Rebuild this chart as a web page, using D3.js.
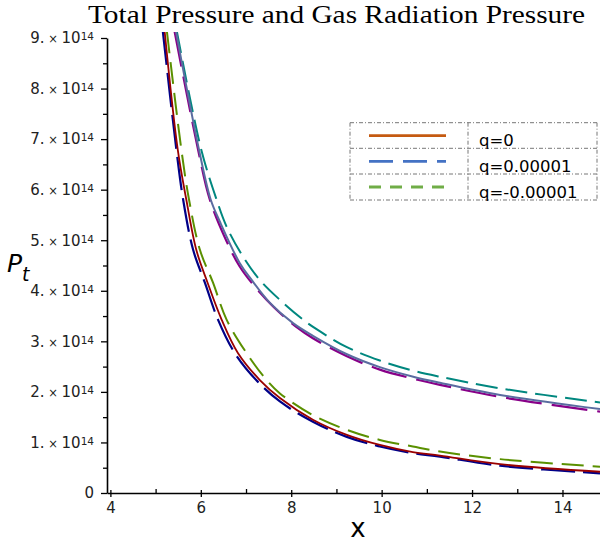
<!DOCTYPE html>
<meta charset="utf-8">
<style>
  body { margin: 0; background: #fff; }
</style>
<script src="https://d3js.org/d3.v7.min.js"></script>
<div id="chart"></div>
<script>

// axis ticks (P in units of 1e14)
var xMajor = [4, 6, 8, 10, 12, 14];
var xMinor = [5, 7, 9, 11, 13];
var yMajor = [0, 1, 2, 3, 4, 5, 6, 7, 8, 9];
var yMinor = [0.5, 1.5, 2.5, 3.5, 4.5, 5.5, 6.5, 7.5, 8.5];

// lower group of curves
var xRed   = [5.20, 5.49, 5.68, 5.90, 6.15, 6.46, 6.82, 7.30, 7.75, 8.48, 9.23, 9.96, 10.69, 11.29, 12.62, 14.83];
var pRed   = [9.13, 6.79, 5.80, 4.81, 4.16, 3.43, 2.77, 2.24, 1.88, 1.45, 1.15, 0.95, 0.81, 0.74, 0.57, 0.42];
var xNavy  = [5.16, 5.46, 5.61, 5.83, 6.09, 6.38, 6.75, 7.22, 7.75, 8.48, 9.23, 9.96, 10.69, 11.29, 12.62, 14.83];
var pNavy  = [9.13, 6.79, 5.80, 4.81, 4.16, 3.43, 2.77, 2.24, 1.81, 1.41, 1.11, 0.92, 0.79, 0.72, 0.54, 0.39];
var xGreen = [5.25, 5.57, 5.74, 5.98, 6.27, 6.57, 7.01, 7.45, 7.75, 8.48, 9.23, 9.96, 10.69, 11.29, 12.62, 14.83];
var pGreen = [9.13, 6.79, 5.80, 4.81, 4.16, 3.43, 2.77, 2.24, 1.97, 1.54, 1.25, 1.05, 0.92, 0.82, 0.67, 0.52];

// upper group of curves
var xPurple = [5.42, 5.94, 6.20, 6.57, 6.86, 7.16, 7.60, 8.12, 8.48, 9.22, 9.96, 10.70, 11.29, 12.62, 14.83];
var pPurple = [9.13, 6.79, 5.80, 4.98, 4.48, 4.12, 3.69, 3.28, 3.06, 2.71, 2.44, 2.26, 2.14, 1.90, 1.61];
var xSlate  = [5.45, 5.96, 6.22, 6.42, 6.86, 7.12, 7.53, 8.04, 8.48, 9.22, 9.96, 10.70, 11.29, 12.62, 14.83];
var pSlate  = [9.13, 6.79, 5.80, 5.37, 4.55, 4.22, 3.76, 3.36, 3.11, 2.75, 2.49, 2.30, 2.18, 1.94, 1.66];
var xTeal   = [5.47, 6.01, 6.35, 6.57, 6.93, 7.30, 7.75, 8.26, 8.56, 9.22, 9.96, 10.70, 11.29, 12.62, 14.83];
var pTeal   = [9.13, 6.79, 5.80, 5.27, 4.68, 4.22, 3.82, 3.43, 3.24, 2.89, 2.62, 2.42, 2.30, 2.07, 1.79];

// legend
var legendLabels = ["q=0", "q=0.00001", "q=-0.00001"];

var series = [
  {xs: xNavy,   ps: pNavy,   color: "#000088", dash: "34,8",  width: 2.2},
  {xs: xGreen,  ps: pGreen,  color: "#5a9000", dash: "22,9",  width: 2},
  {xs: xRed,    ps: pRed,    color: "#9a0000", dash: null,    width: 1.8},
  {xs: xPurple, ps: pPurple, color: "#880088", dash: "36,10", width: 2.2},
  {xs: xTeal,   ps: pTeal,   color: "#00877f", dash: "22,8",  width: 2},
  {xs: xSlate,  ps: pSlate,  color: "#5a6ca0", dash: null,    width: 2}
];
var legendStyles = [
  {color: "#c55a11", dash: null},
  {color: "#4472c4", dash: "24,10"},
  {color: "#70ad47", dash: "12,9"}
];

var W = 600, H = 542;
var svg = d3.select("#chart").append("svg")
  .attr("width", W).attr("height", H)
  .style("font-family", "DejaVu Sans");

var x = d3.scaleLinear().domain([3.925, 14.83]).range([107, 600]);
var y = d3.scaleLinear().domain([0, 9]).range([493, 38]);

// title
svg.append("text")
  .attr("x", 88).attr("y", 23)
  .attr("textLength", 497)
  .attr("lengthAdjust", "spacingAndGlyphs")
  .style("font-family", "Liberation Serif")
  .style("font-size", "25px")
  .text("Total Pressure and Gas Radiation Pressure");

// curves
svg.append("clipPath").attr("id", "plotclip")
  .append("rect").attr("x", 107).attr("y", 32).attr("width", 500).attr("height", 461);

var line = d3.line()
  .x(function(d) { return x(d[0]); })
  .y(function(d) { return y(d[1]); })
  .curve(d3.curveCatmullRom.alpha(0.5));

var g = svg.append("g").attr("clip-path", "url(#plotclip)");
series.forEach(function(s) {
  var pts = s.xs.map(function(v, i) { return [v, s.ps[i]]; });
  g.append("path")
    .attr("d", line(pts))
    .attr("fill", "none")
    .attr("stroke", s.color)
    .attr("stroke-width", s.width)
    .attr("stroke-dasharray", s.dash);
});

// y axis
var yAxis = svg.append("g")
  .attr("transform", "translate(107,0)")
  .call(d3.axisLeft(y).tickValues(yMajor).tickSize(6).tickSizeOuter(0).tickPadding(7)
    .tickFormat(function(d) { return d; }));
yAxis.attr("font-family", "DejaVu Sans");
yAxis.select(".domain").attr("stroke-width", 1.6);
yAxis.selectAll(".tick line").attr("stroke-width", 1.3);
yAxis.selectAll("text")
  .style("font-size", "15px")
  .attr("fill", "#222")
  .each(function(d) {
    var t = d3.select(this);
    t.text(null);
    if (d === 0) { t.text("0"); return; }
    t.append("tspan").text(d + ".");
    t.append("tspan").style("font-size", "11.5px").text(" \u00d7 ");
    t.append("tspan").text("10");
    t.append("tspan").style("font-size", "10.5px").attr("dy", "-3").text("14");
  });
svg.append("g")
  .attr("transform", "translate(107,0)")
  .call(d3.axisLeft(y).tickValues(yMinor).tickSize(4).tickFormat(""))
  .call(function(a) { a.select(".domain").remove(); })
  .selectAll(".tick line").attr("stroke-width", 1.3);

// x axis
var xAxis = svg.append("g")
  .attr("transform", "translate(0,493)")
  .call(d3.axisBottom(x).tickValues(xMajor).tickSize(4).tickSizeOuter(0).tickPadding(5));
xAxis.attr("font-family", "DejaVu Sans");
xAxis.select(".domain").attr("stroke-width", 1.6);
xAxis.selectAll(".tick line").attr("y1", -3).attr("stroke-width", 1.3);
xAxis.selectAll("text").style("font-size", "15px").attr("fill", "#222");
svg.append("g")
  .attr("transform", "translate(0,493)")
  .call(d3.axisTop(x).tickValues(xMinor).tickSize(4).tickFormat(""))
  .call(function(a) { a.select(".domain").remove(); })
  .selectAll(".tick line").attr("stroke-width", 1.3);

// axis labels
svg.append("text")
  .attr("x", 358).attr("y", 537)
  .attr("text-anchor", "middle")
  .style("font-size", "26px")
  .text("x");
var pl = svg.append("text").attr("x", 7).attr("y", 272)
  .style("font-style", "italic").style("font-size", "25px");
pl.append("tspan").text("P");
pl.append("tspan").attr("dy", 9).style("font-size", "19px").text("t");

// legend
var lg = svg.append("g");
var lx0 = 350, lx1 = 468, lx2 = 597;
var rowTops = [122.7, 148.3, 174, 200];
var border = {stroke: "#777", width: 1, dash: "4,2,1,2"};
function bline(x1, y1, x2, y2) {
  lg.append("line").attr("x1", x1).attr("y1", y1).attr("x2", x2).attr("y2", y2)
    .attr("stroke", border.stroke).attr("stroke-width", border.width)
    .attr("stroke-dasharray", border.dash);
}
rowTops.forEach(function(r) { bline(lx0, r, lx2, r); });
bline(lx0, rowTops[0], lx0, rowTops[3]);
bline(lx1, rowTops[0], lx1, rowTops[3]);
bline(lx2, rowTops[0], lx2, rowTops[3]);

legendLabels.forEach(function(label, i) {
  var top = rowTops[i];
  lg.append("line")
    .attr("x1", 369).attr("x2", 446)
    .attr("y1", top + 13).attr("y2", top + 13)
    .attr("stroke", legendStyles[i].color)
    .attr("stroke-width", 2.8)
    .attr("stroke-dasharray", legendStyles[i].dash);
  lg.append("text")
    .attr("x", 479).attr("y", rowTops[i + 1] - 2)
    .style("font-size", "16.5px")
    .text(label);
});

</script>
